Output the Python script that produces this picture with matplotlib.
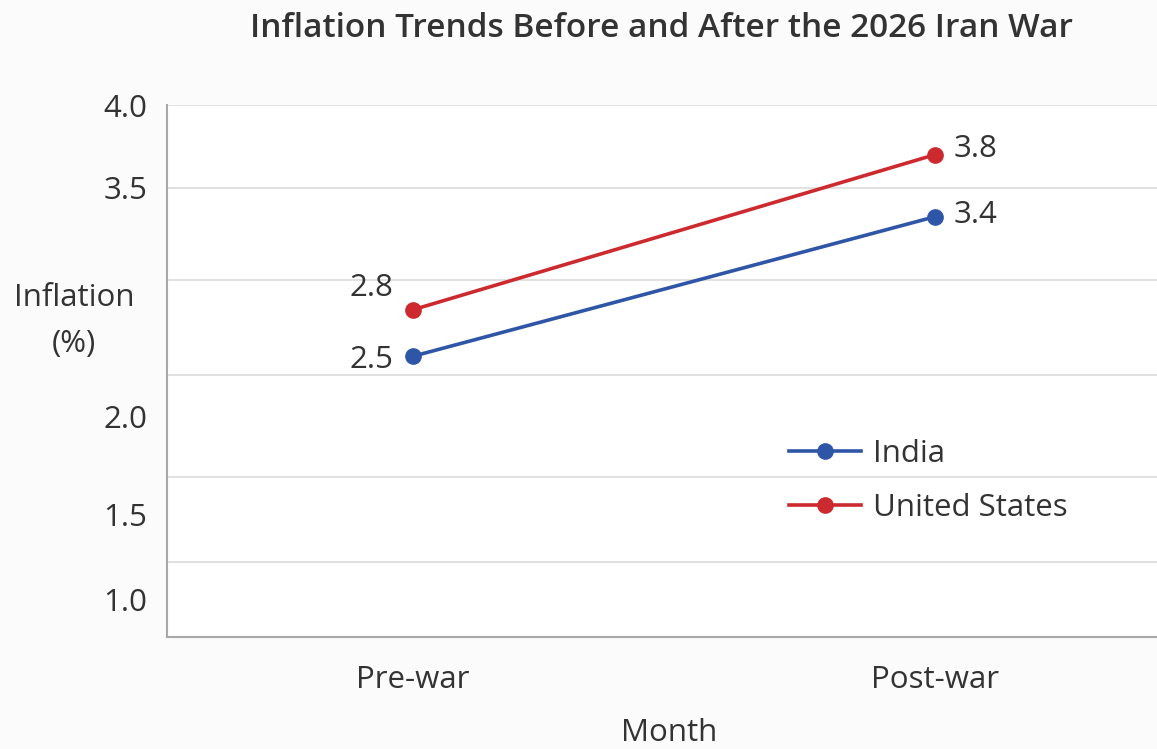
import matplotlib
matplotlib.use("Agg")
import matplotlib.pyplot as plt

# ---- data ----
months = ["Pre-war", "Post-war"]
india = [2.5, 3.4]
united_states = [2.8, 3.8]
series_names = ["India", "United States"]
ytick_labels = ["4.0", "3.5", "2.0", "1.5", "1.0"]

# ---- style / layout ----
plt.rcParams['font.family'] = ['Open Sans', 'DejaVu Sans']
text_color = "#333333"
blue = "#2f56a6"
red = "#cc2a2f"
fs = 22.5

fig = plt.figure(figsize=(11.57, 7.49), dpi=100)
fig.patch.set_facecolor("#fbfbfb")
ax = fig.add_axes([0.1443, 0.1495, 0.8557, 0.7103])
ax.set_facecolor("white")

x = list(range(len(months)))
ax.plot(x, india, color=blue, lw=2.6, marker="o", ms=11, label=series_names[0], zorder=3)
ax.plot(x, united_states, color=red, lw=2.6, marker="o", ms=11, label=series_names[1], zorder=3)

ax.set_xlim(-0.471, 1.425)
ax.set_ylim(0.69, 4.12)

# gridlines (as drawn in the reference)
grid_pos = [4.12, 3.585, 2.992, 2.380, 1.722, 1.174]
for g in grid_pos:
    ax.axhline(g, color="#dcdcdc", lw=1.2, zorder=1)

# tick labels at reference positions
label_pos = [4.12, 3.585, 2.109, 1.477, 0.929]
ax.set_yticks(label_pos)
ax.set_yticklabels(ytick_labels)
ax.tick_params(axis="y", length=0, pad=14, labelsize=fs, labelcolor=text_color)
ax.set_xticks(x)
ax.set_xticklabels(months)
ax.tick_params(axis="x", length=0, pad=20, labelsize=fs, labelcolor=text_color)

for s in ["top", "right"]:
    ax.spines[s].set_visible(False)
for s in ["left", "bottom"]:
    ax.spines[s].set_color("#a8a8a8")
    ax.spines[s].set_linewidth(1.5)

# data labels
ax.annotate(f"{united_states[0]}", (x[0], united_states[0]), xytext=(-30, 16),
            textcoords="offset points", ha="center", va="center", fontsize=fs, color=text_color)
ax.annotate(f"{india[0]}", (x[0], india[0]), xytext=(-30, -3),
            textcoords="offset points", ha="center", va="center", fontsize=fs, color=text_color)
ax.annotate(f"{united_states[1]}", (x[1], united_states[1]), xytext=(29, 4),
            textcoords="offset points", ha="center", va="center", fontsize=fs, color=text_color)
ax.annotate(f"{india[1]}", (x[1], india[1]), xytext=(29, 1),
            textcoords="offset points", ha="center", va="center", fontsize=fs, color=text_color)

leg = ax.legend(loc="upper left", bbox_to_anchor=(0.6, 0.425), frameon=False,
                fontsize=fs, handlelength=2.3, handletextpad=0.4, labelspacing=0.78,
                labelcolor=text_color)

fig.text(0.572, 0.962, "Inflation Trends Before and After the 2026 Iran War",
         ha="center", va="center", fontsize=24, fontweight="semibold", color=text_color)
fig.text(0.064, 0.572, "Inflation\n(%)", ha="center", va="center", fontsize=fs,
         color=text_color, linespacing=1.7)
fig.text(0.578, 0.022, "Month", ha="center", va="center", fontsize=fs, color=text_color)

fig.savefig("out.png", dpi=100, facecolor=fig.get_facecolor())
